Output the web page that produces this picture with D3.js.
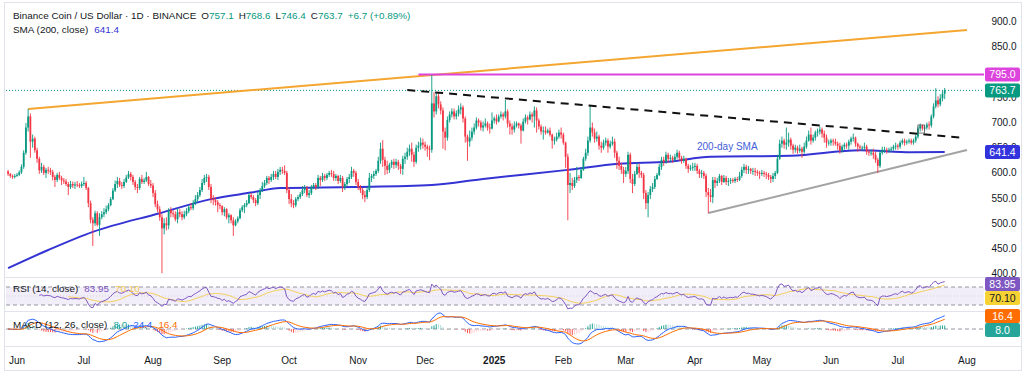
<!DOCTYPE html>
<html>
<head>
<meta charset="utf-8">
<script src="https://cdn.jsdelivr.net/npm/d3@7"></script>
<style>
  body { margin: 0; background: #fff; }
  svg { display: block; font-family: "Liberation Sans", Arial, sans-serif; }
</style>
</head>
<body>
<svg id="chart" width="1024" height="375"></svg>
<script>
// ---- data (BNB/USD daily) ----
const startDay = '2024-05-28';
const firstOpen = 603;

const closes = [
  598,594,592,594,
  596,601,612,640,690,712,662,668,645,628,605,612,600,606,605,602,592,586,596,590,585,583,578,572,578,575,577,576,574,578,
  580,570,540,507,500,520,497,512,518,522,528,536,548,565,578,584,576,574,582,591,598,592,582,572,570,588,582,585,592,578,575,
  560,538,528,512,490,500,496,526,520,518,508,522,518,512,518,524,532,530,540,548,556,566,580,590,592,572,548,546,542,536,534,
  522,528,512,516,506,496,504,510,526,532,536,540,556,552,546,540,556,566,574,580,590,586,592,598,592,602,606,604,600,566,
  548,540,536,548,552,558,566,570,556,560,572,576,572,590,586,594,590,596,600,598,590,594,584,590,572,578,588,592,604,600,582,
  572,566,556,552,566,590,594,598,604,624,648,626,614,606,616,622,616,622,614,608,628,632,642,648,636,622,650,654,660,656,
  652,648,646,738,722,752,736,724,682,670,705,716,722,712,718,726,730,708,672,662,670,682,690,704,700,690,694,698,690,688,704,
  708,702,712,716,712,722,698,692,686,694,698,694,684,702,710,706,716,712,724,704,692,682,684,680,684,676,664,666,672,680,676,
  660,632,576,580,574,586,592,590,606,628,640,664,690,680,668,672,654,650,660,664,652,658,662,640,624,614,606,598,
  604,636,588,578,598,612,600,596,560,540,556,568,572,588,596,612,626,622,636,628,630,626,632,640,630,624,628,614,608,610,612,
  614,604,598,600,594,562,556,552,586,580,584,594,582,590,582,584,586,584,588,586,594,606,612,606,608,604,604,602,600,598,
  600,598,596,592,588,594,600,628,658,664,656,660,666,654,646,650,644,648,642,652,664,676,664,670,680,682,686,678,670,660,660,
  664,662,658,654,644,652,656,654,662,668,670,658,652,650,650,652,642,640,640,636,626,614,640,646,646,644,646,648,652,654,
  652,660,664,660,662,664,660,664,672,688,694,688,690,696,694,712,732,744,736,748,757.1,763.7
];
const highs = [
  606,600,597,598,
  600,605,617,645,699,727,718,676,672,650,632,620,616,610,612,610,606,596,600,602,594,590,588,582,584,583,582,584,580,583,
  592,584,572,545,512,525,524,520,524,530,535,540,552,570,585,592,590,582,588,596,604,602,596,586,578,592,596,590,602,594,586,
  580,566,545,534,518,510,512,530,532,526,524,530,528,524,525,530,536,540,546,556,562,572,588,596,598,596,578,556,552,546,540,
  536,532,530,520,518,512,508,514,530,536,540,546,560,560,556,550,562,570,582,586,594,594,598,604,604,608,612,612,615,604,
  572,558,546,552,556,562,574,576,574,566,576,580,580,596,594,600,598,600,604,606,604,598,596,596,594,582,592,598,612,608,604,
  588,576,570,564,572,600,598,604,608,632,660,665,632,624,620,626,628,628,626,618,634,640,650,656,660,642,656,662,670,668,
  662,656,654,794,760,758,760,742,730,690,712,722,728,728,724,734,738,734,712,676,684,690,698,710,708,704,702,708,702,698,720,
  712,716,716,722,720,745,726,704,698,702,702,700,698,708,716,714,722,720,732,730,708,696,692,692,688,690,678,672,680,686,690,
  680,662,638,600,590,592,612,596,610,632,648,672,735,700,688,682,676,662,666,670,668,664,672,668,644,632,620,612,
  612,642,640,598,604,620,618,604,600,566,562,574,580,594,600,618,632,632,642,640,636,634,638,646,644,634,634,630,618,616,620,
  620,618,608,606,604,598,570,568,592,592,590,598,596,596,594,590,590,590,592,592,602,612,618,616,614,610,610,610,606,604,
  606,604,602,600,596,600,604,636,666,672,668,690,680,670,658,656,654,656,652,660,672,684,690,676,684,688,692,690,684,676,666,
  668,668,668,662,660,656,660,660,666,672,678,672,660,656,654,660,656,646,646,648,642,630,644,652,652,650,650,652,656,660,
  658,664,668,668,666,668,668,668,676,692,698,696,694,700,702,716,738,768,752,756,764,768.6
];
const lows = [
  594,590,588,589,
  592,594,598,608,636,682,630,650,640,620,598,600,596,590,598,596,585,572,582,586,576,578,574,556,568,570,568,572,570,570,
  574,566,532,500,455,495,494,475,508,512,518,524,534,546,562,570,572,568,570,580,588,585,576,566,560,566,578,578,582,574,570,
  552,532,522,505,401,478,486,488,512,512,504,500,512,506,508,514,520,526,526,536,542,552,562,576,582,566,540,536,535,522,528,
  516,514,508,500,500,475,494,500,508,522,520,532,538,548,540,534,536,548,562,570,576,578,582,586,588,586,596,598,596,560,
  538,532,530,532,544,548,554,560,552,550,556,568,566,568,574,582,584,586,592,592,584,584,578,580,562,566,574,580,588,592,576,
  566,560,548,542,548,562,582,588,594,600,618,612,596,598,600,610,608,610,606,598,596,618,626,634,622,612,618,642,646,648,
  644,632,625,640,710,716,728,716,648,645,664,700,710,706,706,712,716,700,660,624,652,664,676,686,692,684,682,690,684,678,686,
  698,696,700,708,704,708,690,676,676,680,690,688,658,682,698,696,704,700,690,680,686,676,666,676,678,672,648,656,662,668,668,
  656,610,506,560,566,570,580,584,588,604,624,634,660,672,660,662,646,640,646,654,640,648,654,630,608,606,598,580,
  592,598,580,560,574,596,590,590,548,528,512,548,562,568,586,594,606,614,618,620,622,620,622,628,624,618,620,608,600,604,604,
  604,598,590,590,588,552,520,542,540,570,574,580,576,580,576,574,578,580,580,582,584,590,600,598,598,598,596,594,594,588,
  594,592,588,586,580,582,588,598,626,650,648,646,652,646,638,640,638,640,630,638,648,662,656,660,664,672,676,670,660,650,654,
  654,654,654,646,638,640,646,648,646,656,662,652,642,644,644,646,636,634,634,628,620,600,610,636,640,638,640,642,644,646,
  646,648,656,654,656,658,656,656,660,668,682,684,684,686,686,690,708,728,730,732,742,746.4
];

// 200-day SMA
const smaDates  = ['2024-05-28','2024-06-15','2024-07-05','2024-08-04','2024-08-27','2024-09-14','2024-09-27','2024-10-30','2024-12-04','2024-12-27','2025-02-03','2025-02-26','2025-03-20','2025-04-08','2025-05-14','2025-06-14','2025-07-07','2025-07-22'];
const smaValues = [411, 447, 483, 520, 548, 561, 570, 572, 576, 588, 606, 618, 622, 632, 634, 645, 641, 641.4];

// drawn trend lines and marker box [date, price]
const resistanceLine = [['2024-06-06', 727], ['2025-08-01', 883.5]];
const athLine        = [['2024-11-28', 795], ['2025-08-09', 795]];
const fallingLine    = [['2024-11-23', 764.5], ['2025-07-31', 669.5]];
const supportLine    = [['2025-04-07', 520.4], ['2025-08-01', 645.5]];
const breakoutBox    = [['2025-07-10', 695], ['2025-07-13', 679]];

const priceTicks = [400, 450, 500, 550, 600, 650, 700, 750, 850, 900];
const monthTicks = ['2024-06-01','2024-07-01','2024-08-01','2024-09-01','2024-10-01','2024-11-01','2024-12-01','2025-01-01','2025-02-01','2025-03-01','2025-04-01','2025-05-01','2025-06-01','2025-07-01','2025-08-01'];
const monthLabels = ['Jun','Jul','Aug','Sep','Oct','Nov','Dec','2025','Feb','Mar','Apr','May','Jun','Jul','Aug'];

const lastBar = { open: 757.1, high: 768.6, low: 746.4, close: 763.7, change: '+6.7', pct: '(+0.89%)' };
const athLevel = 795.0;
const smaLast = 641.4;
const rsiLast = 83.95, rsiMaLast = 70.10;
const macdLast = 24.4, signalLast = 16.4, histLast = 8.0;

// ---- setup ----
const parse = d3.utcParse('%Y-%m-%d');
const t0 = parse(startDay);
const bars = closes.map((c, i) => {
  const open = i === 0 ? firstOpen : closes[i - 1];
  return {
    date: d3.utcDay.offset(t0, i),
    open: open, close: c,
    high: Math.max(highs[i], open, c),
    low: Math.min(lows[i], open, c)
  };
});

const UP = '#089981', DOWN = '#f23645';
const svg = d3.select('#chart');
const plotL = 6, plotR = 984;
const main = { top: 5, bottom: 277 };
const rsiP = { top: 278, bottom: 311 };
const macdP = { top: 312, bottom: 346 };

const x = d3.scaleUtc().domain([parse('2024-06-01'), parse('2025-08-01')]).range([17, 967]);
const y = d3.scaleLinear().domain([400, 900]).range([273.7, 21.7]);

function clip(id, p) {
  svg.append('clipPath').attr('id', id).append('rect')
    .attr('x', plotL).attr('y', p.top).attr('width', plotR - plotL).attr('height', p.bottom - p.top);
}
clip('cMain', main); clip('cRsi', rsiP); clip('cMacd', macdP);

// frame and separators
svg.append('rect').attr('x', 4.5).attr('y', 2.5).attr('width', 1017).attr('height', 368)
  .attr('fill', '#fff').attr('stroke', '#e0e3eb');
[main.bottom + 0.5, rsiP.bottom + 0.5, macdP.bottom + 0.5].forEach(v => {
  svg.append('line').attr('x1', 5).attr('x2', 1021).attr('y1', v).attr('y2', v).attr('stroke', '#e0e3eb');
});

// ---- main pane ----
const gMain = svg.append('g').attr('clip-path', 'url(#cMain)');

// last price dotted line
gMain.append('line').attr('x1', plotL).attr('x2', plotR)
  .attr('y1', y(lastBar.close)).attr('y2', y(lastBar.close))
  .attr('stroke', UP).attr('stroke-dasharray', '1,2');

function trend(pts, color, width, dash) {
  const p = gMain.append('line')
    .attr('x1', x(parse(pts[0][0]))).attr('y1', y(pts[0][1]))
    .attr('x2', x(parse(pts[1][0]))).attr('y2', y(pts[1][1]))
    .attr('stroke', color).attr('stroke-width', width);
  if (dash) p.attr('stroke-dasharray', dash);
}
trend(resistanceLine, '#f4a630', 2);
trend(athLine, '#dd44dd', 2);
trend(supportLine, '#a3a3a3', 2);

// 200 SMA
const smaPts = smaDates.map((d, i) => [x(parse(d)), y(smaValues[i])]);
gMain.append('path').attr('d', d3.line().curve(d3.curveMonotoneX)(smaPts))
  .attr('fill', 'none').attr('stroke', '#3434d4').attr('stroke-width', 2);

// candles
const gc = gMain.append('g');
gc.selectAll('line').data(bars).join('line')
  .attr('x1', d => x(d.date)).attr('x2', d => x(d.date))
  .attr('y1', d => y(d.high)).attr('y2', d => y(d.low))
  .attr('stroke', d => d.close >= d.open ? UP : DOWN).attr('stroke-width', 0.9);
gc.selectAll('rect').data(bars).join('rect')
  .attr('x', d => x(d.date) - 0.9).attr('width', 1.8)
  .attr('y', d => y(Math.max(d.open, d.close)))
  .attr('height', d => Math.max(0.8, Math.abs(y(d.open) - y(d.close))))
  .attr('fill', d => d.close >= d.open ? UP : DOWN);

trend(fallingLine, '#111', 2, '8,6');

const bx0 = x(parse(breakoutBox[0][0])), bx1 = x(parse(breakoutBox[1][0]));
gMain.append('rect').attr('x', bx0).attr('y', y(breakoutBox[0][1]))
  .attr('width', bx1 - bx0).attr('height', y(breakoutBox[1][1]) - y(breakoutBox[0][1]))
  .attr('fill', 'none').attr('stroke', '#555').attr('stroke-width', 0.8);

gMain.append('text').attr('x', 697).attr('y', 150).attr('font-size', 10)
  .attr('fill', '#4460d8').text('200-day SMA');

// ---- indicators ----
function ema(vals, n) {
  const k = 2 / (n + 1); const out = []; let prev = vals[0];
  vals.forEach((v, i) => { prev = i === 0 ? v : v * k + prev * (1 - k); out.push(prev); });
  return out;
}
function rsiCalc(vals, n) {
  const out = vals.map(() => null); let ag = 0, al = 0;
  for (let i = 1; i < vals.length; i++) {
    const ch = vals[i] - vals[i - 1];
    const g = Math.max(ch, 0), l = Math.max(-ch, 0);
    if (i <= n) { ag += g / n; al += l / n; }
    else { ag = (ag * (n - 1) + g) / n; al = (al * (n - 1) + l) / n; }
    if (i >= n) out[i] = al === 0 ? 100 : 100 - 100 / (1 + ag / al);
  }
  return out;
}
const rsi = rsiCalc(closes, 14);
const rsiMa = rsi.map((v, i) => i < 27 ? null : d3.mean(rsi.slice(i - 13, i + 1)));
const e12 = ema(closes, 12), e26 = ema(closes, 26);
const macd = e12.map((v, i) => v - e26[i]);
const signal = ema(macd, 9);
const hist = macd.map((v, i) => v - signal[i]);

// RSI pane
const yr = d3.scaleLinear().domain([30, 70]).range([305, 287]);
const gR = svg.append('g').attr('clip-path', 'url(#cRsi)');
gR.append('rect').attr('x', plotL).attr('width', plotR - plotL)
  .attr('y', yr(70)).attr('height', yr(30) - yr(70)).attr('fill', 'rgba(126,87,194,0.1)');
[70, 30].forEach(v => gR.append('line').attr('x1', plotL).attr('x2', plotR)
  .attr('y1', yr(v)).attr('y2', yr(v)).attr('stroke', '#9598a1').attr('stroke-dasharray', '4,3'));
gR.append('line').attr('x1', plotL).attr('x2', plotR).attr('y1', yr(50)).attr('y2', yr(50))
  .attr('stroke', 'rgba(149,152,161,0.35)').attr('stroke-dasharray', '1,2');
const lineOf = (arr, sc) => d3.line().defined(d => arr[d] != null)
  .x(d => x(bars[d].date)).y(d => sc(arr[d]));
const idx = d3.range(bars.length);
gR.append('path').attr('d', lineOf(rsiMa, yr)(idx)).attr('fill', 'none').attr('stroke', '#f5cf57').attr('stroke-width', 1);
gR.append('path').attr('d', lineOf(rsi, yr)(idx)).attr('fill', 'none').attr('stroke', '#7e57c2').attr('stroke-width', 1);

// MACD pane
const mAll = macd.concat(signal, hist);
const ym = d3.scaleLinear().domain([d3.min(mAll), d3.max(mAll)]).range([344, 313]);
const gM = svg.append('g').attr('clip-path', 'url(#cMacd)');
gM.append('line').attr('x1', plotL).attr('x2', plotR).attr('y1', ym(0)).attr('y2', ym(0))
  .attr('stroke', '#9598a1').attr('stroke-dasharray', '4,3');
gM.selectAll('rect').data(idx).join('rect')
  .attr('x', i => x(bars[i].date) - 0.5).attr('width', 1)
  .attr('y', i => Math.min(ym(0), ym(hist[i])))
  .attr('height', i => Math.abs(ym(hist[i]) - ym(0)))
  .attr('fill', i => {
    const h = hist[i], p = i ? hist[i - 1] : h;
    return h >= 0 ? (h > p ? '#26a69a' : '#b2dfdb') : (h < p ? '#ff5252' : '#ffcdd2');
  });
gM.append('path').attr('d', lineOf(macd, ym)(idx)).attr('fill', 'none').attr('stroke', '#2962ff').attr('stroke-width', 1);
gM.append('path').attr('d', lineOf(signal, ym)(idx)).attr('fill', 'none').attr('stroke', '#ff6d00').attr('stroke-width', 1);

// ---- price scale ----
svg.append('clipPath').attr('id', 'cAx').append('rect')
  .attr('x', plotR).attr('y', main.top).attr('width', 40).attr('height', main.bottom - main.top);
const gAx = svg.append('g').attr('font-size', 10).attr('fill', '#131722').attr('clip-path', 'url(#cAx)');
gAx.selectAll('text').data(priceTicks).join('text')
  .attr('x', 1004).attr('y', d => y(d) + 3.5).attr('text-anchor', 'middle')
  .text(d => d3.format('.1f')(d));

function tag(cy, fill, label, color) {
  const g = svg.append('g');
  g.append('rect').attr('x', 985).attr('y', cy - 7).attr('width', 35).attr('height', 14)
    .attr('rx', 2).attr('fill', fill);
  g.append('text').attr('x', 1002.5).attr('y', cy + 3.5).attr('text-anchor', 'middle')
    .attr('font-size', 10.5).attr('fill', color || '#fff').text(label);
}
tag(y(athLevel), '#dd44dd', d3.format('.1f')(athLevel));
tag(y(lastBar.close), UP, d3.format('.1f')(lastBar.close));
tag(y(smaLast), '#3333dd', d3.format('.1f')(smaLast));
tag(316, '#ff6d00', d3.format('.1f')(signalLast));
tag(284, '#7e57c2', d3.format('.2f')(rsiLast));
tag(298, '#f7d233', d3.format('.2f')(rsiMaLast), '#131722');
tag(330, '#26a69a', d3.format('.1f')(histLast));

// ---- time axis ----
svg.append('g').selectAll('text').data(monthTicks).join('text')
  .attr('x', d => x(parse(d))).attr('y', 363.5).attr('text-anchor', 'middle')
  .attr('font-size', 10).attr('fill', '#131722')
  .attr('font-weight', (d, i) => monthLabels[i] === '2025' ? 'bold' : 'normal')
  .text((d, i) => monthLabels[i]);

// ---- legends ----
function legend(yPos, parts) {
  const t = svg.append('text').attr('x', 13).attr('y', yPos).attr('font-size', 9.9).attr('fill', '#131722');
  parts.forEach(p => t.append('tspan').attr('fill', p[1] || '#131722').attr('dx', p[2] || 0).text(p[0]));
}
legend(19, [['Binance Coin / US Dollar · 1D · BINANCE'],
  ['O', null, 5], [lastBar.open.toFixed(1), UP], ['H', null, 5], [lastBar.high.toFixed(1), UP],
  ['L', null, 5], [lastBar.low.toFixed(1), UP], ['C', null, 5], [lastBar.close.toFixed(1), UP],
  [lastBar.change + ' ' + lastBar.pct, UP, 5]]);
legend(33, [['SMA (200, close)'], [smaLast.toFixed(1), '#3434d4', 6]]);
legend(292, [['RSI (14, close)'], [rsiLast.toFixed(2), '#7e57c2', 6], [rsiMaLast.toFixed(2), '#f2c94c', 6]]);
legend(328, [['MACD (12, 26, close)'], [histLast.toFixed(1), '#26a69a', 6], [macdLast.toFixed(1), '#2962ff', 6], [signalLast.toFixed(1), '#ff6d00', 6]]);
</script>
</body>
</html>
